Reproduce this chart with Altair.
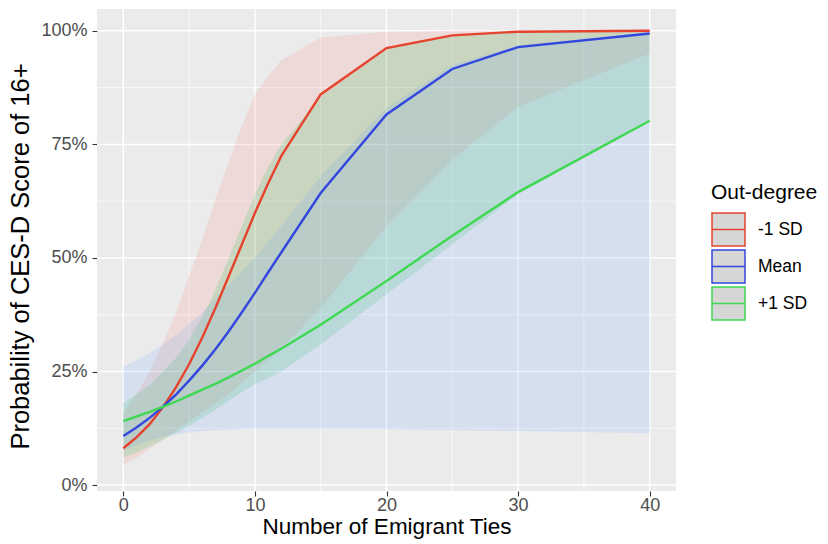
import altair as alt
import pandas as pd

# ---- data ----
x_ties = [0, 1, 2, 3, 4, 5, 6, 7, 8, 9, 10, 11, 12, 15, 20, 25, 30, 40]
groups = ["-1 SD", "Mean", "+1 SD"]

fit_minus = [0.081, 0.105, 0.134, 0.171, 0.215, 0.266, 0.325, 0.390, 0.459, 0.529,
             0.599, 0.664, 0.724, 0.860, 0.962, 0.990, 0.998, 1.000]
lo_minus = [0.044, 0.060, 0.080, 0.100, 0.120, 0.140, 0.160, 0.180, 0.200, 0.225,
            0.250, 0.275, 0.300, 0.390, 0.570, 0.716, 0.833, 0.950]
hi_minus = [0.160, 0.200, 0.250, 0.310, 0.380, 0.460, 0.540, 0.630, 0.710, 0.790,
            0.860, 0.900, 0.935, 0.985, 0.998, 1.000, 1.000, 1.000]

fit_mean = [0.108, 0.127, 0.148, 0.172, 0.199, 0.230, 0.263, 0.299, 0.338, 0.380,
            0.423, 0.468, 0.512, 0.643, 0.816, 0.916, 0.964, 0.994]
lo_mean = [0.060, 0.072, 0.085, 0.100, 0.115, 0.130, 0.148, 0.166, 0.185, 0.205,
           0.222, 0.236, 0.250, 0.310, 0.420, 0.530, 0.640, 0.800]
hi_mean = [0.180, 0.200, 0.220, 0.250, 0.280, 0.320, 0.370, 0.430, 0.500, 0.570,
           0.640, 0.700, 0.750, 0.855, 0.960, 0.990, 0.998, 1.000]

fit_plus = [0.141, 0.151, 0.161, 0.172, 0.184, 0.197, 0.210, 0.223, 0.237, 0.252,
            0.267, 0.284, 0.300, 0.353, 0.449, 0.549, 0.645, 0.802]
lo_plus = [0.075, 0.088, 0.098, 0.106, 0.112, 0.116, 0.119, 0.121, 0.122, 0.123,
           0.124, 0.124, 0.124, 0.124, 0.123, 0.121, 0.119, 0.114]
hi_plus = [0.260, 0.275, 0.290, 0.310, 0.330, 0.355, 0.380, 0.410, 0.440, 0.470,
           0.500, 0.535, 0.570, 0.680, 0.830, 0.925, 0.968, 0.996]

x_major = [0, 10, 20, 30, 40]
x_minor = [5, 15, 25, 35]
y_major = [0, 0.25, 0.5, 0.75, 1.0]
y_minor = [0.125, 0.375, 0.625, 0.875]

line_colors = ["#E5432E", "#3346DE", "#3FD852"]
fill_colors = ["#F8766D", "#00BA38", "#619CFF"]

# ---- build table ----
rows = []
for g, fit, lo, hi in zip(groups, [fit_minus, fit_mean, fit_plus],
                          [lo_minus, lo_mean, lo_plus], [hi_minus, hi_mean, hi_plus]):
    for x, f, l, h in zip(x_ties, fit, lo, hi):
        rows.append({"x": x, "group": g, "fit": f, "lo": l, "hi": h})
df = pd.DataFrame(rows)

FONT = "Liberation Sans"

x_scale = alt.Scale(domain=[-2, 42], nice=False, zero=False)
y_scale = alt.Scale(domain=[-0.013, 1.048], nice=False, zero=False)

x_axis = alt.Axis(values=x_major, grid=False, domain=False, tickColor="#333333",
                  tickSize=5, tickWidth=1.1, labelColor="#4D4D4D", labelFontSize=18,
                  labelPadding=0, title="Number of Emigrant Ties", titleFontSize=22.5,
                  titleFontWeight="normal", titleColor="black", titlePadding=1,
                  labelFont=FONT, titleFont=FONT)
y_axis = alt.Axis(values=y_major, format=".0%", grid=False, domain=False,
                  tickColor="#333333", tickSize=5, tickWidth=1.1, labelColor="#4D4D4D",
                  labelFontSize=18, labelPadding=5,
                  title="Probability of CES-D Score of 16+", titleFontSize=25.5,
                  titleFontWeight="normal", titleColor="black",
                  titleX=-77, titleY=247, titleAngle=270, titleAlign="center",
                  titleBaseline="middle",
                  labelFont=FONT, titleFont=FONT)

xmaj = alt.Chart(pd.DataFrame({"x": x_major})).mark_rule(color="white", strokeWidth=1.5).encode(
    x=alt.X("x:Q", scale=x_scale, axis=x_axis))
xmin = alt.Chart(pd.DataFrame({"x": x_minor})).mark_rule(color="white", strokeWidth=0.7).encode(
    x=alt.X("x:Q", scale=x_scale, axis=x_axis))
ymaj = alt.Chart(pd.DataFrame({"fit": y_major})).mark_rule(color="white", strokeWidth=1.5).encode(
    y=alt.Y("fit:Q", scale=y_scale, axis=y_axis))
ymin = alt.Chart(pd.DataFrame({"fit": y_minor})).mark_rule(color="white", strokeWidth=0.7).encode(
    y=alt.Y("fit:Q", scale=y_scale, axis=y_axis))

ribbon_layers = []
for g, fc in zip(groups, fill_colors):
    ribbon_layers.append(
        alt.Chart(df).transform_filter(alt.datum.group == g)
        .mark_area(opacity=0.15, interpolate="linear", color=fc)
        .encode(
            x=alt.X("x:Q", scale=x_scale, axis=x_axis),
            y=alt.Y("lo:Q", scale=y_scale, axis=y_axis, stack=None),
            y2="hi:Q",
        )
    )

lines = alt.Chart(df).mark_line(strokeWidth=2.4).encode(
    x=alt.X("x:Q", scale=x_scale, axis=x_axis),
    y=alt.Y("fit:Q", scale=y_scale, axis=y_axis),
    color=alt.Color("group:N", scale=alt.Scale(domain=groups, range=line_colors),
                    legend=alt.Legend(title="Out-degree", orient="none", legendX=614,
                                      legendY=173,
                                      symbolType="M-1,-1H1V1H-1Z M-1,0H1",
                                      symbolSize=1089, symbolStrokeWidth=1.5,
                                      symbolFillColor="#D6D6D6",
                                      labelFontSize=17.5, labelFont=FONT,
                                      labelColor="black", labelOffset=12,
                                      titleFontSize=21, titleFont=FONT,
                                      titleFontWeight="normal", titleColor="black",
                                      titlePadding=9, rowPadding=-4.2)),
)

chart = alt.layer(xmin, xmaj, ymin, ymaj, *ribbon_layers, lines).properties(
    width=579, height=482,
    autosize=alt.AutoSizeParams(type="none"),
    padding={"left": 97, "top": 9, "right": 152, "bottom": 53},
    background="white",
).configure(
    font=FONT,
    view=alt.ViewConfig(fill="#EBEBEB", stroke="transparent", strokeWidth=0),
)

chart.save("out.html", embed_options={"renderer": "svg", "actions": False})
